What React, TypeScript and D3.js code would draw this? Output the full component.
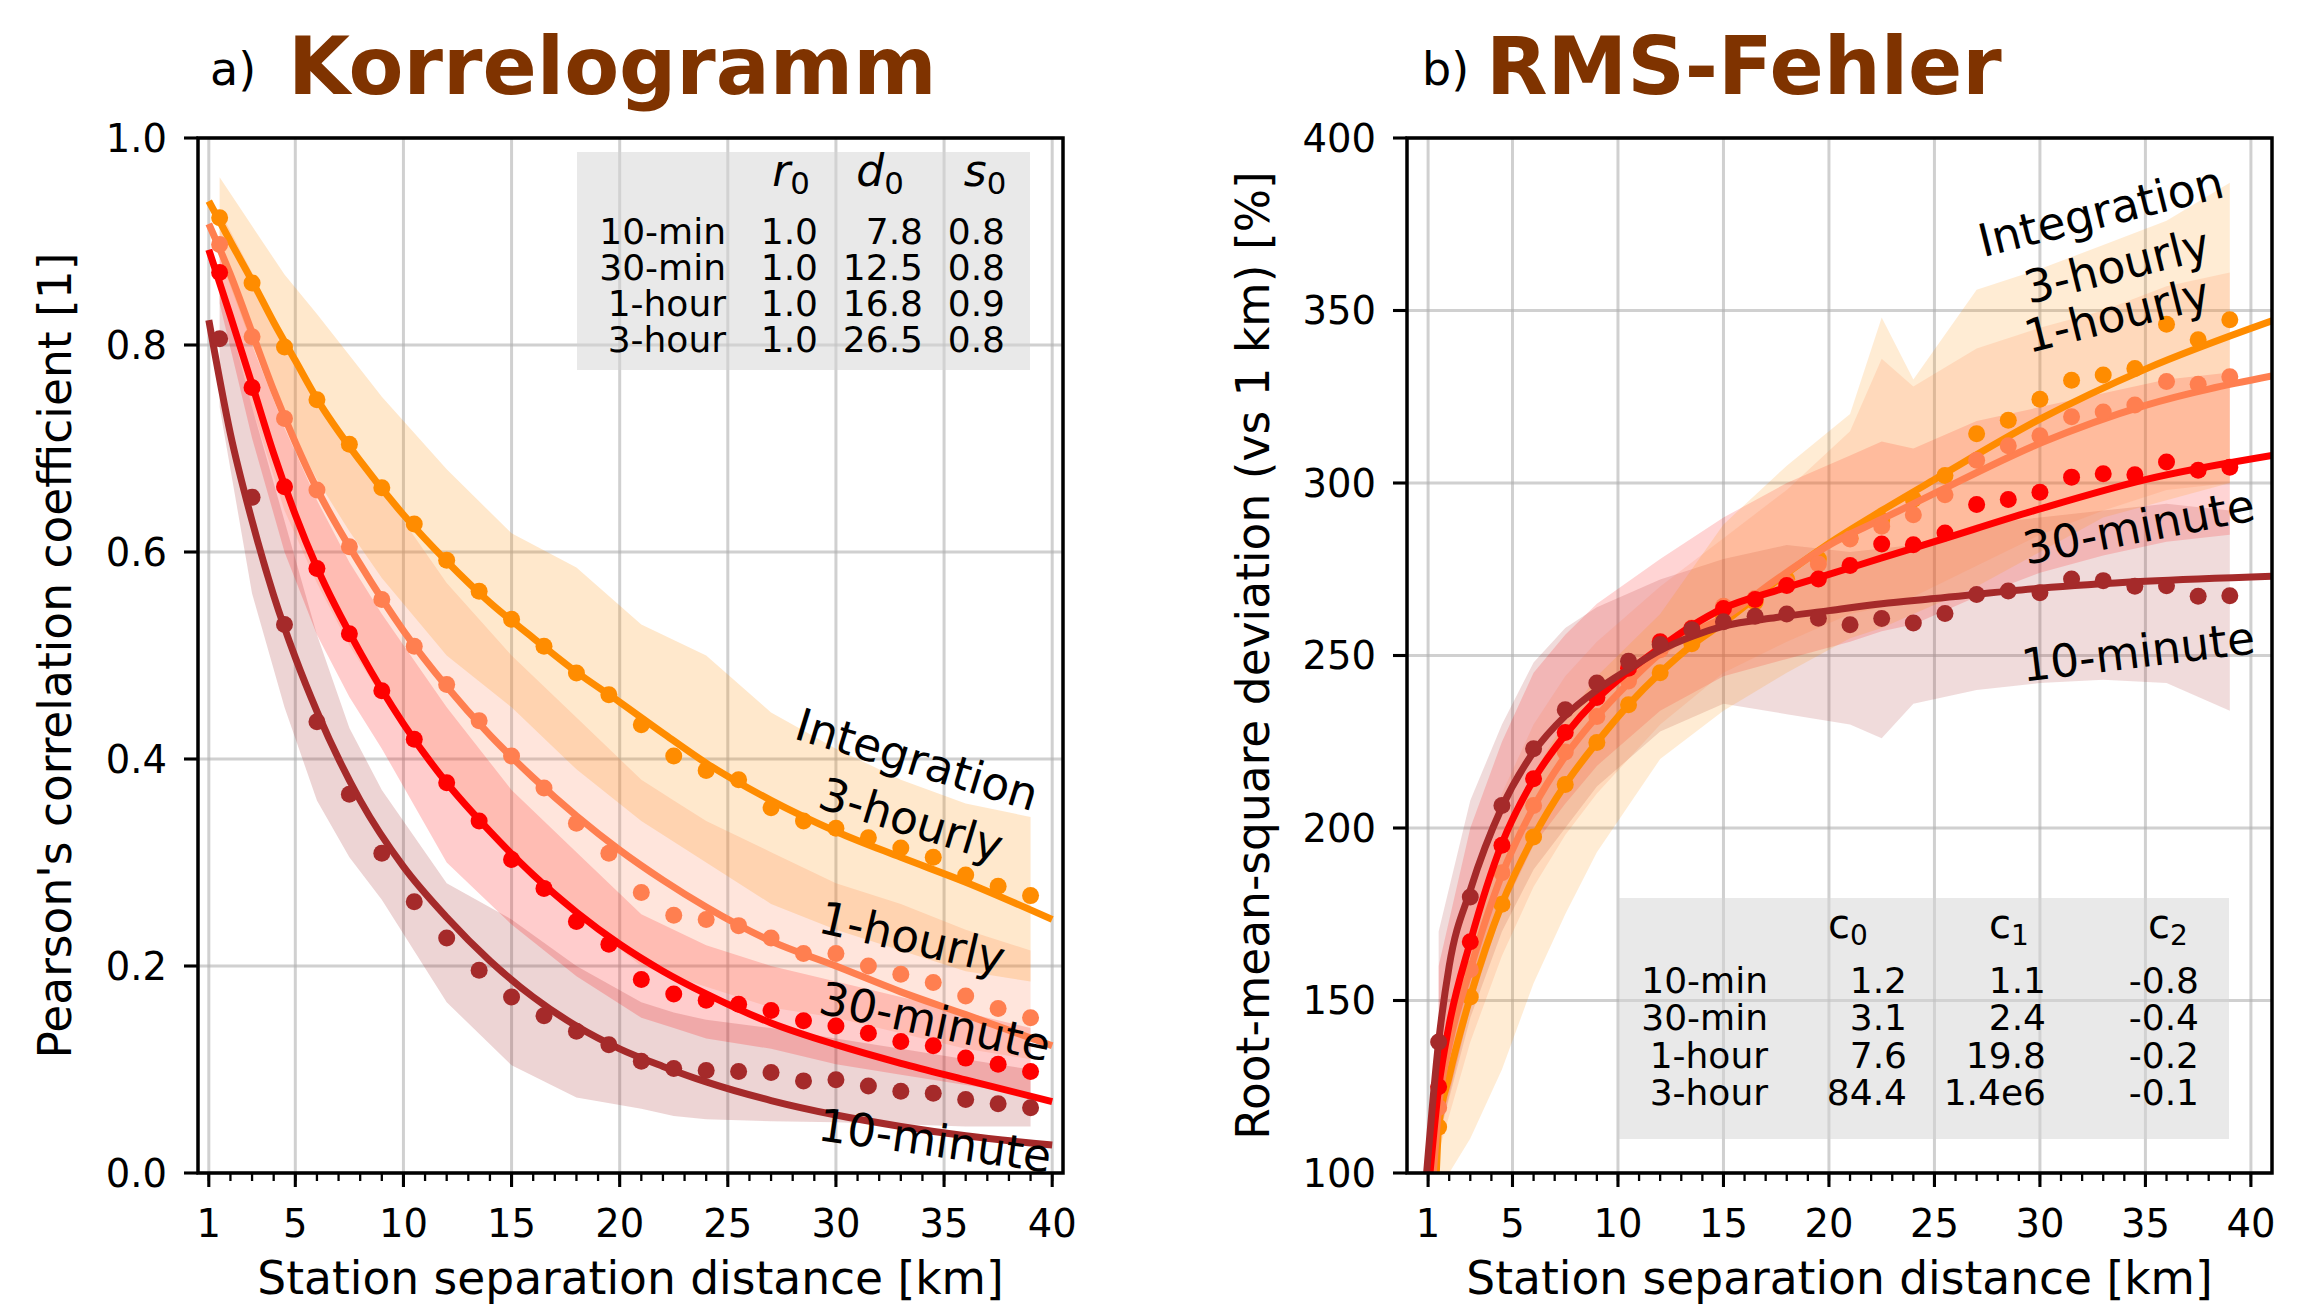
import React from "react";
import * as d3 from "d3";

const FONT = "DejaVu Sans, Verdana, sans-serif";

// distance bins of the station pairs [km]
const binDist = [1.5, 3, 4.5, 6, 7.5, 9, 10.5, 12, 13.5, 15, 16.5, 18, 19.5, 21, 22.5, 24, 25.5, 27, 28.5, 30, 31.5, 33, 34.5, 36, 37.5, 39];
// distances where the spread bands were read
const bandDist = [1.5, 3, 4.5, 6, 7.5, 9, 12, 15, 18, 21, 22.5, 24, 27, 30, 33, 36, 39];

const seriesColors = ["#a52a2a", "#ff0000", "#ff7f50", "#ff8c00"]; // 10-min, 30-min, 1-hour, 3-hour

// ---------- a) Korrelogramm ----------
const corrDots10 = [0.806, 0.653, 0.53, 0.436, 0.366, 0.309, 0.262, 0.227, 0.196, 0.17, 0.152, 0.137, 0.124, 0.108, 0.101, 0.099, 0.098, 0.097, 0.089, 0.09, 0.084, 0.079, 0.077, 0.071, 0.067, 0.063];
const corrDots30 = [0.87, 0.759, 0.663, 0.584, 0.521, 0.466, 0.419, 0.377, 0.34, 0.303, 0.275, 0.243, 0.221, 0.187, 0.173, 0.167, 0.163, 0.157, 0.147, 0.142, 0.135, 0.127, 0.123, 0.111, 0.105, 0.098];
const corrDots1h = [0.897, 0.808, 0.729, 0.66, 0.605, 0.554, 0.509, 0.472, 0.437, 0.403, 0.372, 0.338, 0.309, 0.271, 0.249, 0.245, 0.239, 0.227, 0.212, 0.212, 0.2, 0.192, 0.184, 0.171, 0.159, 0.15];
const corrDots3h = [0.923, 0.86, 0.798, 0.747, 0.704, 0.662, 0.627, 0.592, 0.562, 0.535, 0.509, 0.483, 0.462, 0.433, 0.403, 0.389, 0.38, 0.353, 0.34, 0.333, 0.324, 0.314, 0.305, 0.288, 0.277, 0.268];

const corrFitDist = [1, 2, 3, 4, 5, 6, 8, 10, 12, 14, 16, 18, 20, 22, 24, 27, 30, 33, 36, 40];
const corrFit10 = [0.824, 0.714, 0.63, 0.558, 0.498, 0.446, 0.36, 0.296, 0.247, 0.205, 0.17, 0.142, 0.12, 0.103, 0.088, 0.07, 0.056, 0.045, 0.036, 0.027];
const corrFit30 = [0.892, 0.828, 0.762, 0.695, 0.636, 0.585, 0.503, 0.434, 0.377, 0.33, 0.288, 0.252, 0.221, 0.195, 0.173, 0.145, 0.124, 0.106, 0.09, 0.069];
const corrFit1h = [0.917, 0.868, 0.812, 0.756, 0.706, 0.661, 0.588, 0.524, 0.47, 0.423, 0.382, 0.345, 0.312, 0.283, 0.257, 0.224, 0.2, 0.175, 0.153, 0.123];
const corrFit3h = [0.939, 0.9, 0.862, 0.822, 0.785, 0.748, 0.688, 0.636, 0.591, 0.551, 0.517, 0.484, 0.455, 0.425, 0.396, 0.36, 0.33, 0.305, 0.281, 0.245];

const corrLo10 = [0.74, 0.56, 0.45, 0.36, 0.305, 0.264, 0.165, 0.104, 0.073, 0.062, 0.055, 0.052, 0.05, 0.049, 0.047, 0.045, 0.045];
const corrHi10 = [0.86, 0.74, 0.63, 0.52, 0.43, 0.37, 0.28, 0.245, 0.2, 0.165, 0.155, 0.148, 0.14, 0.13, 0.12, 0.11, 0.1];
const corrLo30 = [0.84, 0.71, 0.6, 0.52, 0.46, 0.41, 0.3, 0.24, 0.19, 0.15, 0.14, 0.13, 0.12, 0.105, 0.095, 0.085, 0.075];
const corrHi30 = [0.9, 0.8, 0.72, 0.65, 0.59, 0.54, 0.45, 0.37, 0.31, 0.25, 0.235, 0.22, 0.2, 0.185, 0.17, 0.155, 0.14];
const corrLo1h = [0.86, 0.74, 0.64, 0.57, 0.51, 0.46, 0.38, 0.31, 0.25, 0.2, 0.19, 0.18, 0.16, 0.15, 0.135, 0.12, 0.11];
const corrHi1h = [0.93, 0.87, 0.8, 0.75, 0.7, 0.66, 0.57, 0.5, 0.44, 0.38, 0.36, 0.34, 0.31, 0.28, 0.26, 0.235, 0.215];
const corrLo3h = [0.885, 0.8, 0.73, 0.67, 0.62, 0.575, 0.5, 0.45, 0.39, 0.34, 0.32, 0.3, 0.26, 0.235, 0.215, 0.195, 0.185];
const corrHi3h = [0.962, 0.915, 0.868, 0.83, 0.79, 0.75, 0.68, 0.618, 0.585, 0.53, 0.515, 0.5, 0.445, 0.41, 0.38, 0.357, 0.344];

// ---------- b) RMS-Fehler ----------
const rmsDots10 = [138, 180, 206.5, 223, 234.3, 242, 248.3, 253.2, 257.5, 259.8, 261.4, 262, 260.8, 258.9, 260.7, 259.4, 262.2, 267.7, 268.7, 268.2, 272.2, 271.7, 270.1, 270.2, 267.2, 267.3];
const rmsDots30 = [125, 167, 195, 214.3, 227.7, 237.8, 246.3, 254, 257.8, 263.6, 266.2, 270.3, 272.2, 276.1, 282.3, 282.1, 285.5, 293.8, 295.2, 297.3, 301.7, 302.7, 302.4, 306.1, 303.7, 304.6];
const rmsDots1h = [119, 159, 187, 206.5, 222, 232.3, 242.6, 251.7, 258, 264.3, 266.5, 271, 276.5, 283.8, 287.5, 290.8, 296.6, 306.6, 310.8, 313.7, 319.2, 320.6, 322.6, 329.4, 328.6, 330.8];
const rmsDots3h = [113.3, 151, 177.9, 197.4, 212.6, 224.8, 235.7, 245, 253.4, 260.9, 265.5, 272, 278, 284, 289.3, 295.3, 302.2, 314.3, 318.2, 324.3, 329.8, 331.3, 333.2, 346, 341.5, 347.3];

// where each fitted curve leaves the 100 % floor
const rmsFitStart = [0.93, 1.09, 1.25, 1.39];
const rmsFitDist = [1.5, 2, 3, 4.5, 6, 7.5, 9, 10.5, 12, 13.5, 15, 17.5, 20, 22.5, 25, 30, 35, 41];
const rmsFit10 = [138, 160, 182, 206, 222, 232.5, 240, 246, 251.5, 255.5, 258.5, 261, 263, 265, 266.5, 269.5, 271.5, 273];
const rmsFit30 = [124.7, 143, 167, 195.5, 214, 227, 237.4, 245.4, 252.3, 258.6, 263.7, 268.8, 273.5, 278.3, 283, 292.5, 301, 308];
const rmsFit1h = [119, 137, 159, 186.5, 206, 220.8, 232.3, 242, 250.6, 256.5, 261, 272, 282, 289.5, 297, 311.5, 322.5, 331];
const rmsFit3h = [113.3, 128, 151, 178, 197.4, 212.6, 224.8, 235.7, 245, 253, 259.5, 271.5, 282.5, 292, 301, 318.5, 333, 347];

const rmsLo10 = [110, 145, 170, 188, 200, 212, 228, 236, 233, 230, 226, 236, 240, 242, 243, 242, 234];
const rmsHi10 = [170, 208, 230, 248, 258, 264, 272, 278, 282, 280, 281, 282, 288, 290, 292, 294, 292];
const rmsLo30 = [110, 148, 176, 195, 207, 218, 234, 244, 249, 254, 257, 259, 267, 274, 279, 283, 285];
const rmsHi30 = [160, 200, 225, 245, 256, 265, 278, 290, 300, 308, 312, 310, 318, 322, 326, 330, 332];
const rmsLo1h = [106, 138, 163, 183, 198, 210, 230, 245, 254, 262, 264, 267, 276, 285, 292, 298, 300];
const rmsHi1h = [145, 185, 210, 230, 244, 254, 270, 284, 298, 315, 336, 328, 339, 345, 350, 357, 361];
const rmsLo3h = [95, 110, 130, 155, 175, 193, 220, 234, 245, 255, 258, 262, 270, 280, 290, 295, 300];
const rmsHi3h = [132, 170, 196, 216, 231, 244, 262, 288, 305, 320, 348, 330, 356, 362, 369, 376, 387];

// fit tables
const tableRows = ["10-min", "30-min", "1-hour", "3-hour"];
const corrR0 = ["1.0", "1.0", "1.0", "1.0"];
const corrD0 = ["7.8", "12.5", "16.8", "26.5"];
const corrS0 = ["0.8", "0.8", "0.9", "0.8"];
const rmsC0 = ["1.2", "3.1", "7.6", "84.4"];
const rmsC1 = ["1.1", "2.4", "19.8", "1.4e6"];
const rmsC2 = ["-0.8", "-0.4", "-0.2", "-0.1"];

const xTicks = [1, 5, 10, 15, 20, 25, 30, 35, 40];
const xMinor = d3.range(1, 41);

function Panel({ id, box, xDomain, yDomain, yTicks, yFormat, letter, title, yLabel, yLabelX, series, bandOpacity, table, curveLabels }) {
  const x = d3.scaleLinear().domain(xDomain).range([box.left, box.right]);
  const y = d3.scaleLinear().domain(yDomain).range([box.bottom, box.top]);
  const line = d3.line().x((d) => x(d[0])).y((d) => y(d[1])).curve(d3.curveMonotoneX);
  const cx = (box.left + box.right) / 2;
  const cy = (box.top + box.bottom) / 2;

  return (
    <g>
      <defs>
        <clipPath id={id}>
          <rect x={box.left} y={box.top} width={box.right - box.left} height={box.bottom - box.top} />
        </clipPath>
      </defs>

      {/* grid */}
      <g stroke="#b0b0b0" strokeOpacity={0.6} strokeWidth={3}>
        {xTicks.map((t) => (
          <line key={"gx" + t} x1={x(t)} x2={x(t)} y1={box.top} y2={box.bottom} />
        ))}
        {yTicks.map((t) => (
          <line key={"gy" + t} x1={box.left} x2={box.right} y1={y(t)} y2={y(t)} />
        ))}
      </g>

      <g clipPath={`url(#${id})`}>
        {/* spread bands */}
        {series.map((s, i) => {
          const area = d3
            .area()
            .x((_, j) => x(bandDist[j]))
            .y0((d) => y(d))
            .y1((_, j) => y(s.hi[j]));
          return <path key={"b" + i} d={area(s.lo)} fill={s.color} fillOpacity={bandOpacity} />;
        })}

        {/* table background */}
        <rect x={table.box[0]} y={table.box[1]} width={table.box[2]} height={table.box[3]} fill="#d3d3d3" fillOpacity={0.5} />

        {/* fits and binned points, 3-hour first so 10-min ends on top */}
        {[...series].reverse().map((s, i) => (
          <g key={"s" + i}>
            <path d={line(s.fitX.map((d, j) => [d, s.fitY[j]]))} fill="none" stroke={s.color} strokeWidth={7} />
            {s.dots.map((v, j) => (
              <circle key={j} cx={x(binDist[j])} cy={y(v)} r={8.5} fill={s.color} />
            ))}
          </g>
        ))}
      </g>

      {/* spines */}
      <rect x={box.left} y={box.top} width={box.right - box.left} height={box.bottom - box.top} fill="none" stroke="#000" strokeWidth={3.5} />

      {/* ticks */}
      <g stroke="#000">
        {xMinor.map((t) => (
          <line key={"mx" + t} x1={x(t)} x2={x(t)} y1={box.bottom} y2={box.bottom + 8} strokeWidth={2.3} />
        ))}
        {xTicks.map((t) => (
          <line key={"tx" + t} x1={x(t)} x2={x(t)} y1={box.bottom} y2={box.bottom + 14} strokeWidth={3.1} />
        ))}
        {yTicks.map((t) => (
          <line key={"ty" + t} x1={box.left - 14} x2={box.left} y1={y(t)} y2={y(t)} strokeWidth={3.1} />
        ))}
      </g>
      <g fontFamily={FONT} fontSize={38.5} fill="#000">
        {xTicks.map((t) => (
          <text key={"lx" + t} x={x(t)} y={1237} textAnchor="middle">
            {t}
          </text>
        ))}
        {yTicks.map((t) => (
          <text key={"ly" + t} x={box.left - 31} y={y(t)} dy="0.36em" textAnchor="end">
            {yFormat(t)}
          </text>
        ))}
      </g>

      {/* axis labels */}
      <text x={cx} y={1294} textAnchor="middle" fontFamily={FONT} fontSize={45.5}>
        Station separation distance [km]
      </text>
      <text transform={`translate(${yLabelX},${cy}) rotate(-90)`} textAnchor="middle" fontFamily={FONT} fontSize={45.5}>
        {yLabel}
      </text>

      {/* title */}
      <text x={box.left + letter.dx} y={85} fontFamily={FONT} fontSize={46}>
        {letter.text}
      </text>
      <text x={box.left + title.dx} y={94} fontFamily={FONT} fontSize={80} fontWeight="bold" fill="#7f3300">
        {title.text}
      </text>

      {/* table text */}
      <g fontFamily={FONT} fill="#000">
        {table.header.map((h, k) => (
          <text key={"h" + k} x={table.headerX[k]} y={table.headerY} textAnchor="middle" fontSize={table.headerSize}>
            <tspan fontStyle={table.italic ? "italic" : "normal"}>{h}</tspan>
            <tspan fontSize={table.headerSize * 0.7} dy={table.headerSize * 0.18}>
              {table.sub[k]}
            </tspan>
          </text>
        ))}
        {tableRows.map((r, k) => (
          <g key={"r" + k} fontSize={36}>
            <text x={table.colX[0]} y={table.rowY[k]} textAnchor="end">
              {r}
            </text>
            {table.cols.map((col, c) => (
              <text key={c} x={table.colX[c + 1]} y={table.rowY[k]} textAnchor="end">
                {col[k]}
              </text>
            ))}
          </g>
        ))}
      </g>

      {/* curve labels */}
      <g fontFamily={FONT} fontSize={45.5} fill="#000">
        {curveLabels.map((l, k) => (
          <text
            key={"c" + k}
            transform={`translate(${x(l.d)},${y(l.v)}) rotate(${l.angle})`}
            textAnchor="middle"
            dominantBaseline="central"
          >
            {l.text}
          </text>
        ))}
      </g>
    </g>
  );
}

export default function App() {
  const corrSeries = [
    { color: seriesColors[0], dots: corrDots10, fitX: corrFitDist, fitY: corrFit10, lo: corrLo10, hi: corrHi10 },
    { color: seriesColors[1], dots: corrDots30, fitX: corrFitDist, fitY: corrFit30, lo: corrLo30, hi: corrHi30 },
    { color: seriesColors[2], dots: corrDots1h, fitX: corrFitDist, fitY: corrFit1h, lo: corrLo1h, hi: corrHi1h },
    { color: seriesColors[3], dots: corrDots3h, fitX: corrFitDist, fitY: corrFit3h, lo: corrLo3h, hi: corrHi3h },
  ];
  const rmsFits = [rmsFit10, rmsFit30, rmsFit1h, rmsFit3h];
  const rmsDots = [rmsDots10, rmsDots30, rmsDots1h, rmsDots3h];
  const rmsLo = [rmsLo10, rmsLo30, rmsLo1h, rmsLo3h];
  const rmsHi = [rmsHi10, rmsHi30, rmsHi1h, rmsHi3h];
  const rmsSeries = rmsFits.map((f, i) => ({
    color: seriesColors[i],
    dots: rmsDots[i],
    fitX: [rmsFitStart[i], ...rmsFitDist],
    fitY: [100, ...f],
    lo: rmsLo[i],
    hi: rmsHi[i],
  }));

  return (
    <div style={{ position: "absolute", left: 0, top: 0 }}>
      <svg width={2323} height={1307} style={{ display: "block", background: "#fff" }}>
        <Panel
          id="clipA"
          box={{ left: 198, right: 1063, top: 138, bottom: 1173 }}
          xDomain={[0.5, 40.5]}
          yDomain={[0, 1]}
          yTicks={[0, 0.2, 0.4, 0.6, 0.8, 1.0]}
          yFormat={(t) => t.toFixed(1)}
          letter={{ text: "a)", dx: 12 }}
          title={{ text: "Korrelogramm", dx: 90 }}
          yLabel="Pearson's correlation coefficient [1]"
          yLabelX={71}
          series={corrSeries}
          bandOpacity={0.2}
          table={{
            box: [577, 152, 453, 218],
            header: ["r", "d", "s"],
            sub: ["0", "0", "0"],
            italic: true,
            headerSize: 44,
            headerX: [791, 880, 985],
            headerY: 186,
            colX: [726, 818, 923, 1005],
            rowY: [244, 280, 316, 352],
            cols: [corrR0, corrD0, corrS0],
          }}
          curveLabels={[
            { text: "Integration", d: 33.75, v: 0.399, angle: 17 },
            { text: "3-hourly", d: 33.47, v: 0.341, angle: 17 },
            { text: "1-hourly", d: 33.52, v: 0.227, angle: 13 },
            { text: "30-minute", d: 34.58, v: 0.146, angle: 12 },
            { text: "10-minute", d: 34.58, v: 0.031, angle: 8 },
          ]}
        />
        <Panel
          id="clipB"
          box={{ left: 1407, right: 2272, top: 138, bottom: 1173 }}
          xDomain={[0, 41]}
          yDomain={[100, 400]}
          yTicks={[100, 150, 200, 250, 300, 350, 400]}
          yFormat={(t) => String(t)}
          letter={{ text: "b)", dx: 15 }}
          title={{ text: "RMS-Fehler", dx: 79 }}
          yLabel="Root-mean-square deviation (vs 1 km) [%]"
          yLabelX={1269}
          series={rmsSeries}
          bandOpacity={0.17}
          table={{
            box: [1619, 898, 610, 241],
            header: ["c", "c", "c"],
            sub: ["0", "1", "2"],
            italic: false,
            headerSize: 40,
            headerX: [1848, 2009, 2168],
            headerY: 938,
            colX: [1768, 1907, 2046, 2199],
            rowY: [993, 1030, 1068, 1105],
            cols: [rmsC0, rmsC1, rmsC2],
          }}
          curveLabels={[
            { text: "Integration", d: 32.89, v: 378.6, angle: -14 },
            { text: "3-hourly", d: 33.65, v: 362.9, angle: -14 },
            { text: "1-hourly", d: 33.65, v: 348.7, angle: -14 },
            { text: "30-minute", d: 34.69, v: 287.2, angle: -11 },
            { text: "10-minute", d: 34.65, v: 251.0, angle: -7 },
          ]}
        />
      </svg>
    </div>
  );
}
